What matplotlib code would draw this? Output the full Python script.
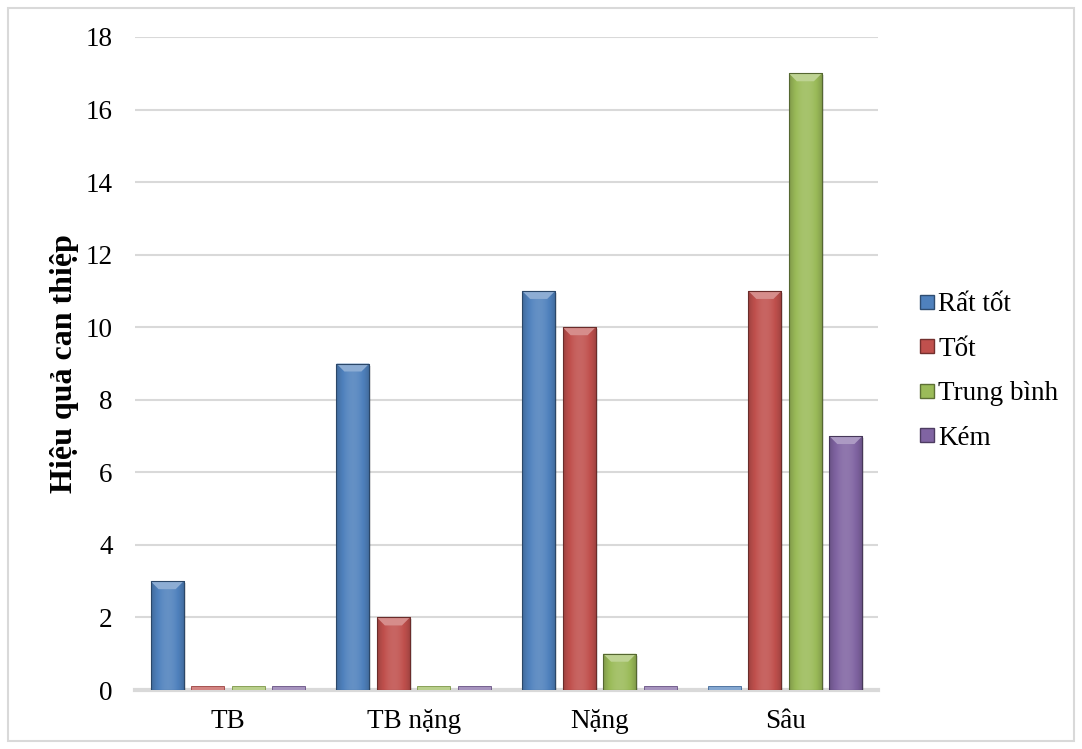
import numpy as np
import matplotlib
matplotlib.use("Agg")
import matplotlib.pyplot as plt
import matplotlib.colors as mcolors
from matplotlib.patches import Polygon, Rectangle
from matplotlib.lines import Line2D

# data
categories = ["TB", "TB nặng", "Nặng", "Sâu"]
series_names = ["Rất tốt", "Tốt", "Trung bình", "Kém"]
rat_tot = [3, 9, 11, 0]
tot = [0, 2, 10, 11]
trung_binh = [0, 0, 1, 17]
kem = [0, 0, 0, 7]
yticks = [0, 2, 4, 6, 8, 10, 12, 14, 16, 18]

series = [rat_tot, tot, trung_binh, kem]
colors = ["#4f81bd", "#c0504d", "#9bbb59", "#8064a2"]

plt.rcParams['font.family'] = ['Liberation Serif', 'DejaVu Serif']


def shade(c, f):
    """blend colour towards white (f>0) or black (f<0)"""
    rgb = np.array(mcolors.to_rgb(c))
    if f > 0:
        return tuple(rgb + (1 - rgb) * f)
    return tuple(rgb * (1 + f))


fig = plt.figure(figsize=(10.82, 7.49), dpi=100)
fig.patches.append(Rectangle((8 / 1082, 8 / 749), 1066 / 1082, 733 / 749,
                             transform=fig.transFigure, fill=False,
                             edgecolor="#d9d9d9", linewidth=1.5))
ax = fig.add_axes([135 / 1082, 1 - 690 / 749, 743 / 1082, 653 / 749])
ax.set_xlim(-0.5, 3.5)
ax.set_ylim(0, 18)

# pixel sizes in data units, for the bevel caps
px_x = 4 / 743
px_y = 18 / 653

x = np.arange(len(categories))
step = 0.218
width = 0.178
stub = 4 * px_y

for i, (vals, col) in enumerate(zip(series, colors)):
    xs = x + (i - 1.5) * step
    for xc, v in zip(xs, vals):
        x0 = xc - width / 2
        if v == 0:
            ax.add_patch(Rectangle((x0, 0), width, stub, facecolor=shade(col, 0.3),
                                   edgecolor=shade(col, -0.2), linewidth=0.6, zorder=3))
            continue
        # soft shadow
        ax.add_patch(Rectangle((x0 + 2 * px_x, 0), width, v - 2 * px_y,
                               facecolor="#000000", alpha=0.12, linewidth=0, zorder=2))
        bar = Rectangle((x0, 0), width, v, facecolor="none",
                        edgecolor=shade(col, -0.45), linewidth=0.8, zorder=4)
        ax.add_patch(bar)
        # horizontal gradient: darker edges, lighter middle
        t = np.linspace(-1, 1, 64)
        prof = 0.12 - 0.35 * t ** 2
        grad = np.array([shade(col, p) if p > 0 else shade(col, p * 0.8) for p in prof])
        im = ax.imshow(grad[np.newaxis, :, :], extent=(x0, x0 + width, 0, v),
                       aspect="auto", zorder=3, interpolation="bilinear")
        im.set_clip_path(bar)
        # bevel cap on top
        d = 8 * px_x
        h = 8 * px_y
        cap = Polygon([(x0, v), (x0 + width, v), (x0 + width - d, v - h), (x0 + d, v - h)],
                      closed=True, facecolor=shade(col, 0.35), edgecolor="none", zorder=3.5)
        ax.add_patch(cap)

ax.set_yticks(yticks)
ax.set_xticks(x)
ax.set_xticklabels(categories)
ax.yaxis.grid(True, color="#d9d9d9", linewidth=1.5)
ax.set_axisbelow(True)
for s in ["top", "right", "left"]:
    ax.spines[s].set_visible(False)
ax.spines["bottom"].set_color("#d9d9d9")
ax.spines["bottom"].set_linewidth(3)
ax.spines["bottom"].set_zorder(1)
ax.tick_params(axis="y", length=0, pad=16, labelsize=19.5)
ax.tick_params(axis="x", length=0, pad=14, labelsize=19.5)

ax.set_ylabel("Hiệu quả can thiệp", fontsize=23, fontweight="bold", labelpad=5)

handles = [Line2D([0], [0], marker="s", linestyle="none", markersize=10,
                  markerfacecolor=c, markeredgecolor=shade(c, -0.4)) for c in colors]
ax.legend(handles, series_names, loc="center left", bbox_to_anchor=(1.04, 0.488),
          frameon=False, fontsize=19.5, handlelength=0.6, handletextpad=0.12,
          labelspacing=0.72, borderaxespad=0)

fig.savefig("out.png", dpi=100)
